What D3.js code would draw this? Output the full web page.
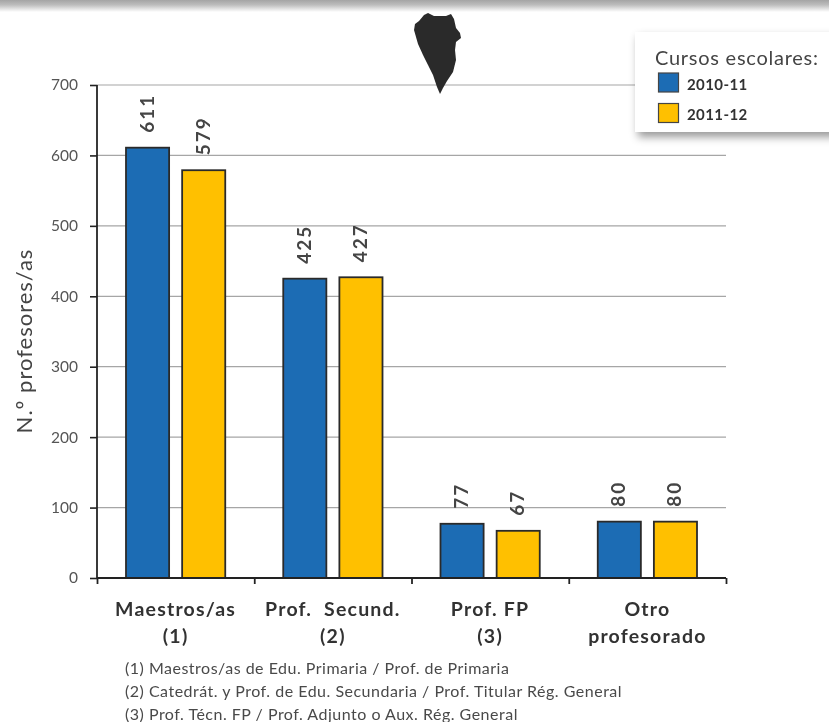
<!DOCTYPE html>
<html><head><meta charset="utf-8">
<script src="https://cdnjs.cloudflare.com/ajax/libs/d3/7.8.5/d3.min.js"></script>
<style>html,body{margin:0;padding:0;background:#fff}svg{display:block}text{font-family:Lato,"Open Sans",sans-serif}</style>
</head><body><svg id="c" width="829" height="722"></svg>
<script>
const categories=["Maestros/as|(1)","Prof.  Secund.|(2)","Prof. FP|(3)","Otro|profesorado"];
const seriesNames=["2010-11","2011-12"];
const values2010=[611,425,77,80];
const values2011=[579,427,67,80];
const colors=["#1f6cb4","#ffc000"];
const yTicks=[0,100,200,300,400,500,600,700];
const notes=["(1) Maestros/as de Edu. Primaria / Prof. de Primaria","(2) Catedrát. y Prof. de Edu. Secundaria / Prof. Titular Rég. General","(3) Prof. Técn. FP / Prof. Adjunto o Aux. Rég. General"];
const svg=d3.select("#c");
const defs=svg.append("defs");
const g=defs.append("linearGradient").attr("id","top").attr("x1",0).attr("x2",0).attr("y1",0).attr("y2",1);
g.append("stop").attr("offset",0).attr("stop-color","#a4a4a4");
g.append("stop").attr("offset",0.4).attr("stop-color","#bcbcbc");
g.append("stop").attr("offset",1).attr("stop-color","#ffffff");
const f=defs.append("filter").attr("id","sh").attr("x","-10%").attr("y","-15%").attr("width","125%").attr("height","135%");
f.append("feDropShadow").attr("dx",3).attr("dy",5).attr("stdDeviation",4).attr("flood-color","#000").attr("flood-opacity",0.4);
const bl=defs.append("filter").attr("id","soft");bl.append("feGaussianBlur").attr("stdDeviation",0.45);
svg.append("rect").attr("width",829).attr("height",12).attr("fill","url(#top)");
const root=svg.append("g").attr("filter","url(#soft)");
const x=d3.scaleBand().domain(categories).range([97,726]);
const x1=d3.scaleBand().domain(seriesNames).range([29,x.bandwidth()-29]).paddingInner(0.232);
const y=d3.scaleLinear().domain([0,700]).range([578,85]);
// grid
root.append("g").selectAll("line").data(yTicks.slice(1)).join("line")
 .attr("x1",97).attr("x2",726).attr("y1",d=>y(d)).attr("y2",d=>y(d)).attr("stroke","#a6a6a6").attr("stroke-width",1.2);
// bars
[values2010,values2011].forEach((vals,i)=>{
 const s=seriesNames[i];
 root.append("g").selectAll("rect").data(vals).join("rect")
  .attr("x",(d,j)=>x(categories[j])+x1(s)).attr("width",x1.bandwidth())
  .attr("y",d=>y(d)).attr("height",d=>y(0)-y(d))
  .attr("fill",colors[i]).attr("stroke","#2b2b2b").attr("stroke-width",1.8);
 root.append("g").selectAll("text").data(vals).join("text")
  .attr("transform",(d,j)=>`translate(${x(categories[j])+x1(s)+x1.bandwidth()/2+6},${y(d)-15}) rotate(-90)`)
  .attr("font-size",19).attr("font-weight",700).attr("letter-spacing",2).attr("fill","#444").text(d=>d);
});
// axes
const ya=root.append("g").attr("transform","translate(97,0)").call(d3.axisLeft(y).tickValues(yTicks).tickSize(7).tickPadding(12));
ya.select(".domain").attr("stroke","#222").attr("stroke-width",1.8).attr("d","M0,85V578");
ya.selectAll("line").attr("stroke","#222").attr("stroke-width",1.6);
ya.selectAll("text").attr("font-size",15.5).attr("fill","#555").style("font-family","Lato");
const xa=root.append("g").attr("transform","translate(0,578)").call(d3.axisBottom(d3.scaleLinear().domain([0,4]).range([97,726])).ticks(4).tickSize(6).tickFormat(""));
xa.select(".domain").attr("stroke","#222").attr("stroke-width",1.8).attr("d","M97,0H726");
xa.selectAll("line").attr("stroke","#222").attr("stroke-width",1.8);
// category labels
categories.forEach(c=>{
 c.split("|").forEach((t,i)=>root.append("text").attr("x",x(c)+x.bandwidth()/2-(i==0?-0:0)).attr("y",616+i*27)
  .attr("text-anchor","middle").attr("font-size",19.5).attr("font-weight",700).attr("letter-spacing",1.2).attr("fill","#333").style("white-space","pre").text(t));
});
root.append("text").attr("transform","translate(32,341) rotate(-90)").attr("text-anchor","middle").attr("font-size",22).attr("letter-spacing",1).attr("fill","#444").text("N.º profesores/as");
root.selectAll(".n").data(notes).join("text").attr("class","n").attr("x",125).attr("y",(d,i)=>674+i*23).attr("font-size",16).attr("letter-spacing",0.5).attr("fill","#4a4a4a").text(d=>d);
// island
root.append("path").attr("fill","#2b2b2b").attr("d","M428,13L434,16L446,16L451,14L454,19L456,28L460,33L461,38L456,42L455,50L456,60L453,72L447,81L443,88L440,94L437,87L433,75L428,65L423,55L418,44L414,30L415,24L419,21L424,15Z");
// legend
const lg=svg.append("g");
lg.append("rect").attr("x",635).attr("y",32).attr("width",215).attr("height",100).attr("fill","#fff").attr("filter","url(#sh)");
const lt=lg.append("g").attr("filter","url(#soft)");
lt.append("text").attr("x",655).attr("y",65).attr("font-size",20).attr("letter-spacing",0.75).attr("fill","#444").text("Cursos escolares:");
seriesNames.forEach((s,i)=>{
 lt.append("rect").attr("x",658.5).attr("y",73+i*30.5).attr("width",20).attr("height",19).attr("fill",colors[i]).attr("stroke","#444").attr("stroke-width",1.2);
 lt.append("text").attr("x",687).attr("y",90+i*30).attr("font-size",15).attr("font-weight",700).attr("letter-spacing",0.4).attr("fill","#333").text(s);
});
</script></body></html>
